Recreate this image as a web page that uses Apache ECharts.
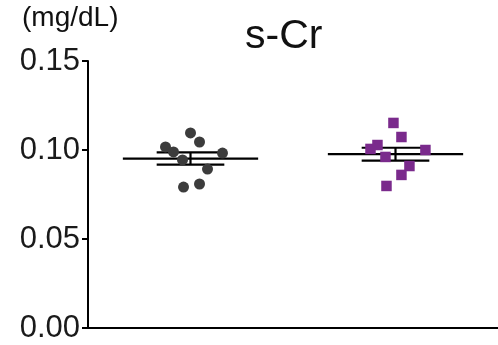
<!DOCTYPE html>
<html><head><meta charset="utf-8">
<script src="https://cdn.jsdelivr.net/npm/echarts@6/dist/echarts.min.js"></script>
<style>html,body{margin:0;padding:0;background:#fff}#c{width:498px;height:345px}</style>
</head><body><div id="c"></div>
<script>
var categories = ['', ''];
var yTicks = [0.00, 0.05, 0.10, 0.15];
var group1Values = [0.1096, 0.1045, 0.1017, 0.0989, 0.0983, 0.0944, 0.0893, 0.0792, 0.0809];
var group1Jitter = [0.00, 0.044, -0.122, -0.083, 0.156, -0.039, 0.083, -0.034, 0.044];
var group2Values = [0.1152, 0.1073, 0.1028, 0.1006, 0.1000, 0.0961, 0.0910, 0.0860, 0.0798];
var group2Jitter = [-0.01, 0.029, -0.088, -0.122, 0.146, -0.049, 0.068, 0.029, -0.044];

function stats(v){
  var n=v.length, m=v.reduce(function(a,b){return a+b;},0)/n;
  var s=Math.sqrt(v.reduce(function(a,b){return a+(b-m)*(b-m);},0)/(n-1));
  return [m, s/Math.sqrt(n)];
}
var s1=stats(group1Values), s2=stats(group2Values);
var summary=[[0,s1[0],s1[1]],[1,s2[0],s2[1]]];

var chart=echarts.init(document.getElementById('c'));
var font='Liberation Sans, Arial, sans-serif';
chart.setOption({
  animation:false,
  graphic:[
    {type:'text',left:245,top:16,style:{text:'s-Cr',font:'normal 41px '+font,fill:'#111'}},
    {type:'text',left:22,top:4,style:{text:'(mg/dL)',font:'normal 28px '+font,fill:'#111'}}
  ],
  grid:{left:88,right:0,top:61,bottom:17,containLabel:false},
  xAxis:[
    {type:'category',data:categories,boundaryGap:true,
     axisLine:{onZero:false,lineStyle:{color:'#000',width:2}},
     axisTick:{alignWithLabel:true,length:5,lineStyle:{color:'#000',width:2}},
     axisLabel:{show:false},splitLine:{show:false}},
    {type:'value',min:-0.5,max:1.5,show:false}
  ],
  yAxis:{type:'value',min:0,max:0.15,interval:0.05,
    axisLine:{show:true,onZero:false,lineStyle:{color:'#000',width:2}},
    axisTick:{show:true,length:6,lineStyle:{color:'#000',width:2}},
    splitLine:{show:false},
    axisLabel:{fontFamily:font,fontSize:31,color:'#1a1a1a',margin:8,
      formatter:function(v){return v.toFixed(2);}}
  },
  series:[
    {type:'custom',xAxisIndex:1,data:summary,z:2,
     renderItem:function(params,api){
       var x=api.value(0),m=api.value(1),e=api.value(2);
       var a=api.coord([x-0.33,m]),b=api.coord([x+0.33,m]);
       var u1=api.coord([x-0.165,m+e]),u2=api.coord([x+0.165,m+e]);
       var l1=api.coord([x-0.165,m-e]),l2=api.coord([x+0.165,m-e]);
       var st={stroke:'#000',lineWidth:2.2};
       return {type:'group',children:[
         {type:'line',shape:{x1:a[0],y1:a[1],x2:b[0],y2:b[1]},style:st},
         {type:'line',shape:{x1:u1[0],y1:u1[1],x2:u2[0],y2:u2[1]},style:st},
         {type:'line',shape:{x1:l1[0],y1:l1[1],x2:l2[0],y2:l2[1]},style:st},
         {type:'line',shape:{x1:(u1[0]+u2[0])/2,y1:u1[1],x2:(l1[0]+l2[0])/2,y2:l1[1]},style:st}
       ]};
     }},
    {type:'scatter',xAxisIndex:1,symbol:'circle',symbolSize:11,z:5,
     itemStyle:{color:'#3c3c3c',opacity:1},
     data:group1Values.map(function(v,i){return [0+group1Jitter[i],v];})},
    {type:'scatter',xAxisIndex:1,symbol:'rect',symbolSize:10.5,z:5,
     itemStyle:{color:'#7a2a8c',opacity:1},
     data:group2Values.map(function(v,i){return [1+group2Jitter[i],v];})}
  ]
});
</script></body></html>
